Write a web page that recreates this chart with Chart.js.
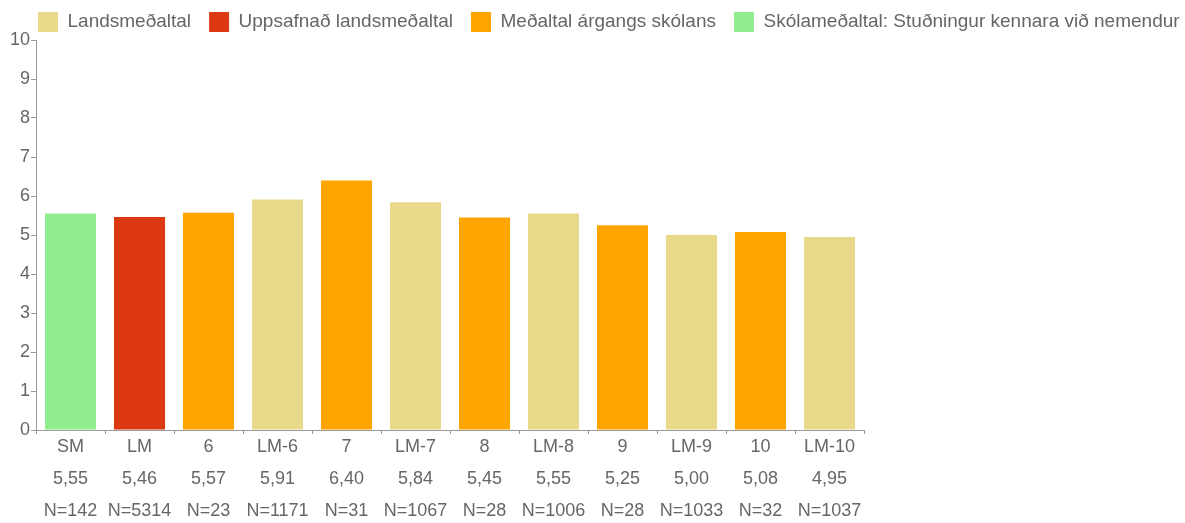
<!DOCTYPE html>
<html>
<head>
<meta charset="utf-8">
<script src="https://cdn.jsdelivr.net/npm/chart.js@4/dist/chart.umd.min.js"></script>
<style>
  html, body { margin: 0; padding: 0; background: #fff; }
  #wrap { width: 1185px; height: 523px; }
</style>
</head>
<body>
<div id="wrap"><canvas id="chart"></canvas></div>
<script>
// flokkar, gildi og fjöldi svarenda
const categories = ["SM", "LM", "6", "LM-6", "7", "LM-7", "8", "LM-8", "9", "LM-9", "10", "LM-10"];
const values = [5.55, 5.46, 5.57, 5.91, 6.40, 5.84, 5.45, 5.55, 5.25, 5.00, 5.08, 4.95];
const counts = [142, 5314, 23, 1171, 31, 1067, 28, 1006, 28, 1033, 32, 1037];
// hvaða sería á við hvern flokk (vísir í seriesNames)
const seriesOf = [3, 1, 2, 0, 2, 0, 2, 0, 2, 0, 2, 0];
const seriesNames = ["Landsmeðaltal", "Uppsafnað landsmeðaltal", "Meðaltal árgangs skólans", "Skólameðaltal: Stuðningur kennara við nemendur"];
const seriesColors = ["#e9d98a", "#dc3912", "#ffa500", "#90ee90"];
const yTicks = [0, 1, 2, 3, 4, 5, 6, 7, 8, 9, 10];

const labels = categories.map((c, i) => [c, values[i].toFixed(2).replace(".", ","), "N=" + counts[i]]);

const datasets = seriesNames.map((name, s) => ({
    label: name,
    data: values.map((v, i) => seriesOf[i] === s ? v : null),
    backgroundColor: seriesColors[s],
    borderWidth: 0,
    barPercentage: 0.74,
    categoryPercentage: 1
}));

const grey = "#666";
const axisGrey = "#999";
const fontFamily = "'Liberation Sans', Arial, Helvetica, sans-serif";

// skýringin á einni línu, lág, og byrjar aðeins innar
const legendFit = {
    id: "legendFit",
    beforeInit(chart) {
        const fit = chart.legend.fit;
        chart.legend.fit = function () {
            this.maxWidth += 100;
            fit.call(this);
            this.maxWidth -= 100;
            this.width = this.maxWidth;
            this.height = 46;
        };
    },
    afterLayout(chart) {
        chart.legend.left = 20;
        chart.legend.right = chart.width + 100;
    }
};

new Chart(document.getElementById("chart"), {
    type: "bar",
    data: { labels: labels, datasets: datasets },
    plugins: [legendFit],
    options: {
        responsive: true,
        maintainAspectRatio: false,
        animation: false,
        layout: { padding: { left: 9, right: 0, top: -6, bottom: 0 } },
        plugins: {
            tooltip: { enabled: false },
            legend: {
                position: "top",
                align: "start",
                labels: {
                    color: grey,
                    boxWidth: 20,
                    boxHeight: 20,
                    padding: 18,
                    font: { family: fontFamily, size: 19 }
                }
            }
        },
        scales: {
            x: {
                stacked: true,
                afterFit: s => { s.height = 93; },
                border: { color: axisGrey, width: 1 },
                grid: { display: true, drawOnChartArea: false, tickLength: 4, color: axisGrey },
                ticks: {
                    color: grey,
                    padding: -3,
                    autoSkip: false,
                    maxRotation: 0,
                    font: { family: fontFamily, size: 18, lineHeight: 32 / 18 }
                }
            },
            y: {
                stacked: true,
                min: 0,
                max: 10,
                afterBuildTicks: axis => { axis.ticks = yTicks.map(v => ({ value: v })); },
                border: { color: axisGrey, width: 1 },
                grid: { display: true, drawOnChartArea: false, tickLength: 5, color: axisGrey },
                ticks: {
                    color: grey,
                    padding: 1,
                    font: { family: fontFamily, size: 18 }
                }
            },
            // autt bil hægra megin við teikninguna
            spacer: {
                type: "linear",
                position: "right",
                afterFit: s => { s.width = 321; },
                border: { display: false },
                grid: { display: false },
                ticks: { display: false }
            }
        }
    }
});
</script>
</body>
</html>
